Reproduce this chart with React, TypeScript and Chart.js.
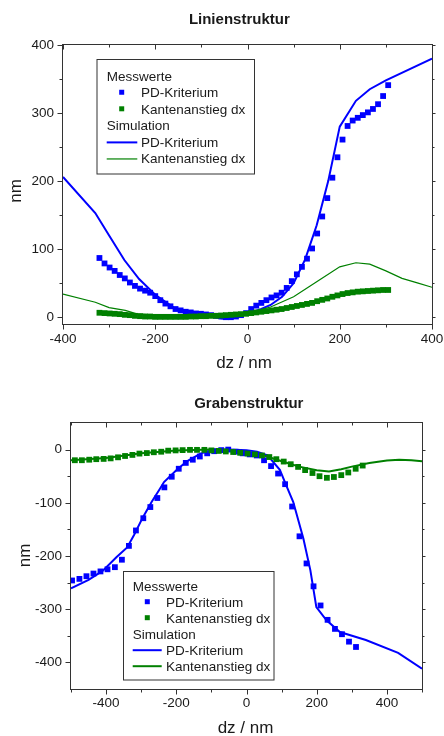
import React, { useEffect, useRef } from "react";
import { Chart, registerables } from "chart.js";

Chart.register(...registerables);

const FONT = "'Liberation Sans', Arial, Helvetica, sans-serif";
const BLUE = "rgb(0,0,255)";
const GREEN = "rgb(0,128,0)";
const INK = "#1a1a1a";

// ---------- Chart 1: Linienstruktur ----------
const LINE_TITLE = "Linienstruktur";
const X_TITLE = "dz / nm";
const Y_TITLE = "nm";

const LINE_MEAS_X = [
  -321, -310, -299, -288, -277, -266, -255, -244, -233, -222,
  -211, -200, -189, -178, -167, -156, -145, -134, -123, -112,
  -101, -90, -79, -68, -57, -47, -36, -25, -14, -3,
  8, 19, 30, 41, 52, 63, 74, 85, 96, 107,
  118, 129, 140, 151, 162, 173, 184, 195, 206, 217,
  228, 239, 250, 261, 272, 283, 294, 305,
];
const LINE_MEAS_PD = [
  87, 79, 73, 68, 62, 57, 51, 46, 42, 39,
  36, 31, 25, 20, 16, 12, 10, 8, 7, 5.5,
  5, 4, 3, 2, 1, 0, 0, 1, 3, 6,
  12, 17, 21, 25, 29, 32, 36, 43, 53, 63,
  74, 86, 101, 123, 148, 175, 205, 235, 261, 281,
  289, 293, 297, 301, 306, 313, 325, 341,
];
const LINE_MEAS_DX = [
  6.5, 6, 5.5, 5, 4.5, 3.5, 3, 2, 1.5, 1,
  1, 0.5, 0.5, 0.5, 0.5, 0.5, 0.5, 0.5, 1, 1,
  1.5, 1.5, 2, 2, 2.5, 3, 3.5, 4, 4.5, 5,
  6, 7, 8, 9, 10, 11, 12, 13.5, 15, 16.5,
  18, 19.5, 21, 23.5, 25.5, 27.5, 30, 32, 34, 35.5,
  36.5, 37.5, 38, 38.5, 39, 39.5, 40, 40,
];
const LINE_SIM_PD_X = [-400, -330, -300, -267, -235, -200, -160, -120, -80, -55, -30, 0, 30, 50, 75, 100, 125, 150, 175, 200, 235, 265, 300, 400];
const LINE_SIM_PD_Y = [206, 153, 120, 84, 56, 33, 14, 6, 1, -2, -1, 5, 12, 18, 30, 50, 85, 135, 200, 280, 318, 335, 348, 380];
const LINE_SIM_DX_X = [-400, -330, -300, -265, -240, -200, -150, -100, -50, 0, 50, 100, 150, 200, 235, 265, 300, 335, 370, 400];
const LINE_SIM_DX_Y = [34, 22, 14, 10, 5, 3, 1.5, 1, 2, 6, 15, 30, 52, 74, 80, 78, 68, 57, 50, 44];
const LINE_X_TICKS = [-400, -200, 0, 200, 400];
const LINE_X_MINOR = [-300, -100, 100, 300];
const LINE_Y_TICKS = [0, 100, 200, 300, 400];
const LINE_Y_MINOR = [50, 150, 250, 350];

// ---------- Chart 2: Grabenstruktur ----------
const GRAB_TITLE = "Grabenstruktur";
const GRAB_MEAS_PD_X = [
  -497, -476, -456, -436, -416, -396, -375, -355, -335, -315,
  -294, -274, -254, -234, -213, -193, -173, -153, -133, -112,
  -92, -72, -52, -31, -11, 9, 29, 50, 70, 90,
  110, 130, 151, 171, 191, 211, 231, 252, 272, 292, 312,
];
const GRAB_MEAS_PD = [
  -246, -243, -238, -233, -229, -225, -221, -207, -181, -152,
  -129, -108, -91, -71, -51, -36, -25, -19, -13, -7,
  -3, -1, 0, -4, -7, -9, -11, -20, -31, -45,
  -65, -107, -163, -214, -257, -293, -320, -337, -347, -361, -371,
];
const GRAB_MEAS_DX_X = [
  -489, -469, -448, -428, -407, -387, -366, -346, -325, -305,
  -284, -264, -243, -223, -202, -182, -161, -141, -120, -100,
  -79, -59, -38, -18, 3, 24, 44, 65, 85, 106,
  126, 147, 167, 188, 208, 229, 249, 270, 290, 311, 331,
];
const GRAB_MEAS_DX = [
  -20, -20, -19, -18, -17.5, -16.5, -14.5, -12, -10, -7.5,
  -6.5, -5, -4, -2, -1.5, -1, -0.5, -0.5, -0.5, -1.5,
  -2.5, -3.5, -4.5, -6, -7.5, -9, -11, -14, -18, -22.5,
  -27.5, -32.5, -38.5, -44, -50, -53, -51.5, -48, -43, -36, -30,
];
const GRAB_SIM_PD_X = [-500, -450, -410, -370, -340, -320, -295, -270, -247, -235, -200, -170, -130, -90, -50, 0, 30, 60, 95, 115, 133, 162, 182, 199, 228, 266, 340, 432, 500];
const GRAB_SIM_PD_Y = [-261, -245, -228, -202, -184, -160, -127, -98, -74, -61, -39, -22, -7, -1, 0, -1, -4, -11, -38, -70, -98, -167, -227, -296, -321, -343, -358, -382, -412];
const GRAB_SIM_DX_X = [-500, -400, -300, -200, -100, -50, 0, 50, 100, 150, 200, 235, 270, 300, 350, 400, 435, 470, 500];
const GRAB_SIM_DX_Y = [-20, -16, -7, -1.5, 0, -0.5, -4, -11, -22, -32, -39, -41, -37, -32, -25, -20.5, -19, -20, -22];
const GRAB_X_TICKS = [-400, -200, 0, 200, 400];
const GRAB_X_MINOR = [-500, -300, -100, 100, 300, 500];
const GRAB_Y_TICKS = [-400, -300, -200, -100, 0];
const GRAB_Y_MINOR = [-350, -250, -150, -50];

// ---------- Legend texts ----------
const LEGEND_MEAS = "Messwerte";
const LEGEND_SIM = "Simulation";
const LEGEND_PD = "PD-Kriterium";
const LEGEND_DX = "Kantenanstieg dx";

const zip = (xs: number[], ys: number[]) => xs.map((x, i) => ({ x, y: ys[i] }));

type Cfg = {
  width: number;
  height: number;
  area: { left: number; right: number; top: number; bottom: number };
  xRange: [number, number];
  yRange: [number, number];
  xTicks: number[];
  xMinor: number[];
  yTicks: number[];
  yMinor: number[];
  xLabelPad: number;
  yLabelPad: number;
  title: { text: string; x: number; y: number };
  xTitle: { text: string; x: number; y: number };
  yTitle: { text: string; x: number; y: number };
  legend: {
    box: [number, number, number, number];
    headerX: number;
    itemX: number;
    baseline0: number;
    step: number;
    markerX: number;
    lineX1: number;
    lineX2: number;
    dxLineWidth: number;
  };
  datasets: any[];
};

function makeDeco(cfg: Cfg) {
  return {
    id: "deco",
    afterDraw(chart: any) {
      const ctx = chart.ctx as CanvasRenderingContext2D;
      const a = chart.chartArea;
      const xs = chart.scales.x;
      const ys = chart.scales.y;
      ctx.save();
      // frame
      ctx.strokeStyle = "#333";
      ctx.lineWidth = 1;
      const L = Math.round(a.left) - 0.5;
      const R = Math.round(a.right) + 0.5;
      const T = Math.round(a.top) - 0.5;
      const B = Math.round(a.bottom) + 0.5;
      ctx.strokeRect(L, T, R - L, B - T);
      // ticks
      const tickX = (v: number, len: number, inLen: number) => {
        const p = Math.round(xs.getPixelForValue(v)) + 0.5;
        ctx.beginPath();
        ctx.moveTo(p, B);
        ctx.lineTo(p, B + len);
        ctx.moveTo(p, T);
        ctx.lineTo(p, T + inLen);
        ctx.stroke();
      };
      const tickY = (v: number, len: number, outLen: number) => {
        const p = Math.round(ys.getPixelForValue(v)) + 0.5;
        ctx.beginPath();
        ctx.moveTo(L, p);
        ctx.lineTo(L - len, p);
        ctx.moveTo(R, p);
        ctx.lineTo(R + outLen, p);
        ctx.stroke();
      };
      cfg.xTicks.forEach((v) => tickX(v, 5, 5));
      cfg.xMinor.forEach((v) => tickX(v, 3, 3));
      cfg.yTicks.forEach((v) => tickY(v, 5, 3));
      cfg.yMinor.forEach((v) => tickY(v, 3, 2));

      // titles
      ctx.fillStyle = INK;
      ctx.textBaseline = "alphabetic";
      ctx.textAlign = "center";
      ctx.font = `bold 15px ${FONT}`;
      ctx.fillText(cfg.title.text, cfg.title.x, cfg.title.y);
      ctx.font = `17px ${FONT}`;
      ctx.fillText(cfg.xTitle.text, cfg.xTitle.x, cfg.xTitle.y);
      ctx.save();
      ctx.translate(cfg.yTitle.x, cfg.yTitle.y);
      ctx.rotate(-Math.PI / 2);
      ctx.fillText(cfg.yTitle.text, 0, 0);
      ctx.restore();

      // legend
      const lg = cfg.legend;
      const [x1, y1, x2, y2] = lg.box;
      ctx.fillStyle = "#fff";
      ctx.fillRect(x1, y1, x2 - x1, y2 - y1);
      ctx.strokeStyle = "#333";
      ctx.lineWidth = 1;
      ctx.strokeRect(x1, y1, x2 - x1, y2 - y1);
      ctx.font = `13.5px ${FONT}`;
      ctx.textAlign = "left";
      ctx.fillStyle = INK;
      const rows = [
        { kind: "h", text: LEGEND_MEAS },
        { kind: "m", text: LEGEND_PD, color: BLUE },
        { kind: "m", text: LEGEND_DX, color: GREEN },
        { kind: "h", text: LEGEND_SIM },
        { kind: "l", text: LEGEND_PD, color: BLUE, lw: 2 },
        { kind: "l", text: LEGEND_DX, color: GREEN, lw: lg.dxLineWidth },
      ];
      rows.forEach((r: any, i) => {
        const by = lg.baseline0 + i * lg.step;
        ctx.fillStyle = INK;
        if (r.kind === "h") {
          ctx.fillText(r.text, lg.headerX, by);
          return;
        }
        ctx.fillText(r.text, lg.itemX, by);
        if (r.kind === "m") {
          ctx.fillStyle = r.color;
          ctx.fillRect(lg.markerX - 2.5, by - 7.5, 5, 5);
        } else {
          ctx.strokeStyle = r.color;
          ctx.lineWidth = r.lw;
          ctx.beginPath();
          ctx.moveTo(lg.lineX1, by - 4.5);
          ctx.lineTo(lg.lineX2, by - 4.5);
          ctx.stroke();
        }
      });
      ctx.restore();
    },
  };
}

function buildChart(canvas: HTMLCanvasElement, cfg: Cfg) {
  const tickFont = { family: FONT, size: 13.5 };
  return new Chart(canvas, {
    type: "scatter",
    data: { datasets: cfg.datasets },
    options: {
      responsive: false,
      animation: false,
      devicePixelRatio: 1,
      events: [],
      layout: {
        autoPadding: false,
        padding: { left: 0, right: cfg.width - cfg.area.right, top: cfg.area.top, bottom: 0 },
      },
      plugins: {
        legend: { display: false },
        tooltip: { enabled: false },
        title: { display: false },
      },
      scales: {
        x: {
          type: "linear",
          position: "bottom",
          min: cfg.xRange[0],
          max: cfg.xRange[1],
          grid: { display: false, drawTicks: false, tickLength: 0 },
          border: { display: false },
          ticks: { font: tickFont, color: INK, padding: cfg.xLabelPad, maxRotation: 0, autoSkip: false },
          afterBuildTicks: (s: any) => {
            s.ticks = cfg.xTicks.map((v) => ({ value: v }));
          },
          afterFit: (s: any) => {
            s.height = cfg.height - cfg.area.bottom;
            s.paddingLeft = 0;
            s.paddingRight = 0;
          },
        },
        y: {
          type: "linear",
          position: "left",
          min: cfg.yRange[0],
          max: cfg.yRange[1],
          grid: { display: false, drawTicks: false, tickLength: 0 },
          border: { display: false },
          ticks: { font: tickFont, color: INK, padding: cfg.yLabelPad, autoSkip: false },
          afterBuildTicks: (s: any) => {
            s.ticks = cfg.yTicks.map((v) => ({ value: v }));
          },
          afterFit: (s: any) => {
            s.width = cfg.area.left;
            s.paddingTop = 0;
            s.paddingBottom = 0;
          },
        },
      },
    } as any,
    plugins: [makeDeco(cfg)],
  } as any);
}

const markerSet = (data: any[], color: string) => ({
  data,
  showLine: false,
  pointStyle: "rect",
  pointRadius: 4.1,
  pointBorderWidth: 0,
  pointBackgroundColor: color,
  backgroundColor: color,
  borderColor: color,
});
const lineSet = (data: any[], color: string, width: number) => ({
  data,
  showLine: true,
  pointRadius: 0,
  borderColor: color,
  borderWidth: width,
  backgroundColor: color,
  tension: 0,
});

const CFG1: Cfg = {
  width: 444,
  height: 370,
  area: { left: 63, right: 432, top: 45, bottom: 324 },
  xRange: [-400, 400],
  yRange: [-10, 400],
  xTicks: LINE_X_TICKS,
  xMinor: LINE_X_MINOR,
  yTicks: LINE_Y_TICKS,
  yMinor: LINE_Y_MINOR,
  xLabelPad: 7,
  yLabelPad: 9,
  title: { text: LINE_TITLE, x: 239.3, y: 24 },
  xTitle: { text: X_TITLE, x: 244, y: 368 },
  yTitle: { text: Y_TITLE, x: 21, y: 191 },
  legend: {
    box: [97, 59.5, 254.5, 174],
    headerX: 106.7,
    itemX: 141,
    baseline0: 80.7,
    step: 16.55,
    markerX: 121.7,
    lineX1: 106.7,
    lineX2: 137.3,
    dxLineWidth: 1.2,
  },
  datasets: [
    markerSet(zip(LINE_MEAS_X, LINE_MEAS_DX), GREEN),
    markerSet(zip(LINE_MEAS_X, LINE_MEAS_PD), BLUE),
    lineSet(zip(LINE_SIM_DX_X, LINE_SIM_DX_Y), GREEN, 1.2),
    lineSet(zip(LINE_SIM_PD_X, LINE_SIM_PD_Y), BLUE, 2),
  ],
};

const CFG2: Cfg = {
  width: 444,
  height: 366,
  area: { left: 71, right: 422, top: 53, bottom: 319 },
  xRange: [-500, 500],
  yRange: [-450, 50],
  xTicks: GRAB_X_TICKS,
  xMinor: GRAB_X_MINOR,
  yTicks: GRAB_Y_TICKS,
  yMinor: GRAB_Y_MINOR,
  xLabelPad: 6.5,
  yLabelPad: 9,
  title: { text: GRAB_TITLE, x: 248.8, y: 38.3 },
  xTitle: { text: X_TITLE, x: 245.5, y: 363.3 },
  yTitle: { text: Y_TITLE, x: 30, y: 185.5 },
  legend: {
    box: [123.5, 201.5, 274, 310],
    headerX: 132.7,
    itemX: 166,
    baseline0: 220.7,
    step: 16,
    markerX: 147.3,
    lineX1: 132.7,
    lineX2: 161.7,
    dxLineWidth: 2,
  },
  datasets: [
    markerSet(zip(GRAB_MEAS_DX_X, GRAB_MEAS_DX), GREEN),
    markerSet(zip(GRAB_MEAS_PD_X, GRAB_MEAS_PD), BLUE),
    lineSet(zip(GRAB_SIM_DX_X, GRAB_SIM_DX_Y), GREEN, 2),
    lineSet(zip(GRAB_SIM_PD_X, GRAB_SIM_PD_Y), BLUE, 2),
  ],
};

function ChartCanvas({ cfg, top }: { cfg: Cfg; top: number }) {
  const ref = useRef<HTMLCanvasElement | null>(null);
  useEffect(() => {
    if (!ref.current) return;
    const chart = buildChart(ref.current, cfg);
    return () => chart.destroy();
  }, [cfg]);
  return (
    <canvas
      ref={ref}
      width={cfg.width}
      height={cfg.height}
      style={{ position: "absolute", left: 0, top, width: cfg.width, height: cfg.height, display: "block" }}
    />
  );
}

export default function App() {
  return (
    <div style={{ position: "absolute", left: 0, top: 0, width: 444, height: 736, background: "#fff" }}>
      <ChartCanvas cfg={CFG1} top={0} />
      <ChartCanvas cfg={CFG2} top={370} />
    </div>
  );
}
